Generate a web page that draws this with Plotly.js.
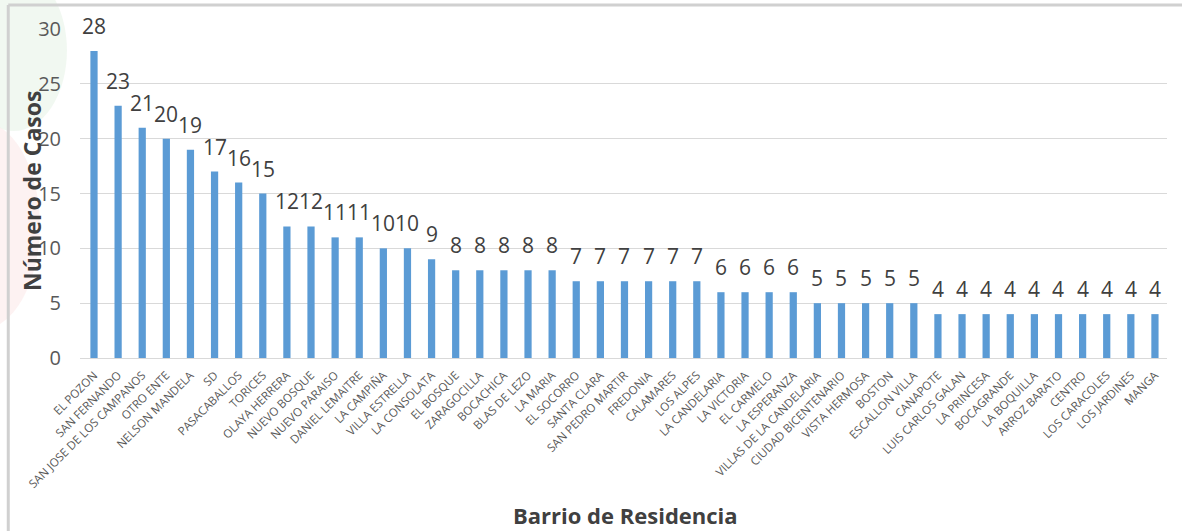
<!DOCTYPE html>
<html>
<head>
<meta charset="utf-8">
<script src="https://cdn.plot.ly/plotly-3.0.1.min.js"></script>
<style>html,body{margin:0;padding:0;background:#fff;}#chart{width:1182px;height:531px;}</style>
</head>
<body>
<div id="chart"></div>
<script>
const barrios = ["EL POZON","SAN FERNANDO","SAN JOSE DE LOS CAMPANOS","OTRO ENTE","NELSON MANDELA","SD","PASACABALLOS","TORICES","OLAYA HERRERA","NUEVO BOSQUE","NUEVO PARAISO","DANIEL LEMAITRE","LA CAMPIÑA","VILLA ESTRELLA","LA CONSOLATA","EL BOSQUE","ZARAGOCILLA","BOCACHICA","BLAS DE LEZO","LA MARIA","EL SOCORRO","SANTA CLARA","SAN PEDRO MARTIR","FREDONIA","CALAMARES","LOS ALPES","LA CANDELARIA","LA VICTORIA","EL CARMELO","LA ESPERANZA","VILLAS DE LA CANDELARIA","CIUDAD BICENTENARIO","VISTA HERMOSA","BOSTON","ESCALLON VILLA","CANAPOTE","LUIS CARLOS GALAN","LA PRINCESA","BOCAGRANDE","LA BOQUILLA","ARROZ BARATO","CENTRO","LOS CARACOLES","LOS JARDINES","MANGA"];
const casos = [28,23,21,20,19,17,16,15,12,12,11,11,10,10,9,8,8,8,8,8,7,7,7,7,7,7,6,6,6,6,5,5,5,5,5,4,4,4,4,4,4,4,4,4,4];
const yTicks = [0,5,10,15,20,25,30];
const xTitle = "Barrio de Residencia";
const yTitle = "Número de Casos";

const trace = {
  type: "bar",
  x: barrios,
  y: casos,
  marker: {color: "#5b9bd5"},
  hoverinfo: "x+y"
};

const valueLabels = barrios.map((b, i) => ({
  x: b, y: casos[i], xref: "x", yref: "y",
  text: String(casos[i]),
  showarrow: false, xanchor: "center", yanchor: "bottom",
  yshift: 9,
  font: {family: "Open Sans, sans-serif", size: 21, color: "#404040"}
}));

const layout = {
  width: 1182, height: 531,
  margin: {l: 80, r: 15, t: 29, b: 173},
  paper_bgcolor: "#ffffff",
  plot_bgcolor: "#ffffff",
  showlegend: false,
  bargap: 0.7,
  font: {family: "Open Sans, sans-serif", color: "#595959"},
  xaxis: {
    type: "category",
    tickangle: -45,
    tickfont: {size: 11.6, color: "#595959"},
    showgrid: false,
    showline: true,
    linecolor: "#d9d9d9",
    linewidth: 1,
    ticks: "",
    ticklabelstandoff: 5,
    automargin: false,
    title: {text: ""}
  },
  yaxis: {
    range: [0, 30],
    tickvals: yTicks,
    ticktext: yTicks.map(String),
    tickfont: {size: 20, color: "#595959"},
    showgrid: true,
    gridcolor: "#d9d9d9",
    gridwidth: 1,
    zeroline: false,
    showline: false,
    ticks: "",
    ticklabelstandoff: 18,
    automargin: false,
    title: {text: ""}
  },
  annotations: valueLabels.concat([
    {text: "<b>" + xTitle + "</b>", xref: "paper", yref: "paper", x: 0.502, y: -0.477, xanchor: "center", yanchor: "middle", showarrow: false, font: {size: 22, color: "#404040"}},
    {text: "<b>" + yTitle + "</b>", xref: "paper", yref: "paper", x: -0.044, y: 0.508, xanchor: "center", yanchor: "middle", textangle: -90, showarrow: false, font: {size: 23, color: "#404040"}}
  ]),
  shapes: [
    {type: "circle", xref: "paper", yref: "paper", layer: "below", x0: -0.11, x1: -0.012, y0: 0.69, y1: 1.18, fillcolor: "rgba(232,244,232,0.6)", line: {width: 0}},
    {type: "circle", xref: "paper", yref: "paper", layer: "below", x0: -0.147, x1: -0.037, y0: 0.085, y1: 0.72, fillcolor: "rgba(251,234,234,0.6)", line: {width: 0}},
    {type: "line", xref: "paper", yref: "paper", x0: -0.066, x1: 1.02, y0: 1.073, y1: 1.073, line: {color: "#d0d0d0", width: 3}},
    {type: "line", xref: "paper", yref: "paper", x0: -0.066, x1: -0.066, y0: -0.55, y1: 1.073, line: {color: "#d0d0d0", width: 3}}
  ]
};

Plotly.newPlot("chart", [trace], layout, {displayModeBar: false, staticPlot: true});
</script>
</body>
</html>
